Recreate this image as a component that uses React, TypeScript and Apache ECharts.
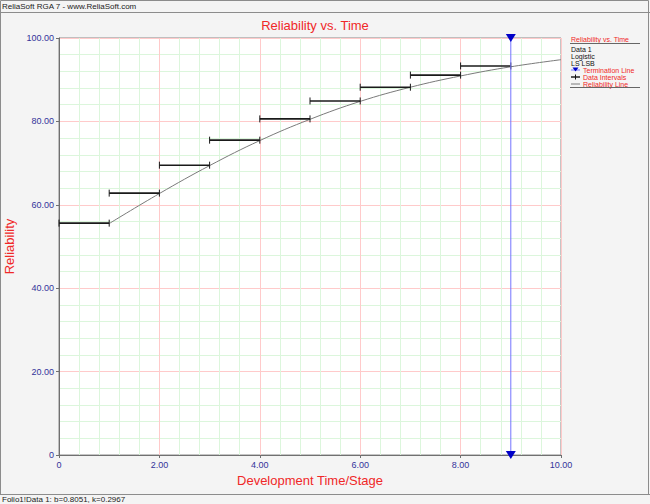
import React, { useEffect, useRef } from "react";
import * as echarts from "echarts";

// Data intervals: [start stage, end stage, reliability %]
const intervalStarts = [0, 1, 2, 3, 4, 5, 6, 7, 8];
const intervalEnds = [1, 2, 3, 4, 5, 6, 7, 8, 9];
const intervalValues = [55.6, 62.8, 69.5, 75.5, 80.6, 84.9, 88.2, 91.1, 93.3];

// Reliability line
const curveT = [1, 2, 3, 4, 5, 6, 7, 8, 9, 10];
const curveR = [55.5, 62.7, 69.4, 75.4, 80.5, 84.8, 88.2, 90.9, 93.1, 94.8];

// Termination line
const terminationT = 9;
const terminationRange = [0, 100];

const xTicks = [0, 2, 4, 6, 8, 10];
const yTicks = [0, 20, 40, 60, 80, 100];

const FONT = "Liberation Sans";
const RED = "#f02828";
const BLUE_LABEL = "#33339a";

export default function App() {
  const ref = useRef<HTMLDivElement>(null);
  useEffect(() => {
    if (!ref.current) return;
    const chart = echarts.init(ref.current, undefined, { renderer: "svg" });
    const fmt = (v: number) => (v === 0 ? "0" : v.toFixed(2));
    const intervalData = intervalStarts.map((s, i) => [s, intervalEnds[i], intervalValues[i]]);
    const curveData = curveT.map((t, i) => [t, curveR[i]]);

    const legendY0 = 49;
    const legendStep = 7;
    const legendText = (text: string, y: number, color: string, x = 571) => ({
      type: "text",
      x,
      y,
      style: { text, fill: color, font: `7px ${FONT}`, textVerticalAlign: "middle" },
    });

    chart.setOption({
      animation: false,
      backgroundColor: "#f4f4f4",
      textStyle: { fontFamily: FONT },
      title: {
        text: "Reliability vs. Time",
        left: 310,
        top: 14,
        textAlign: "center",
        textStyle: { color: RED, fontSize: 13, fontWeight: "normal", fontFamily: FONT },
      },
      grid: {
        left: 59,
        top: 38,
        right: 89,
        bottom: 49,
        containLabel: false,
        outerBoundsMode: "none",
        show: true,
        backgroundColor: "#ffffff",
        borderColor: "#8a8a8a",
        borderWidth: 1,
      },
      xAxis: {
        type: "value",
        min: xTicks[0],
        max: xTicks[xTicks.length - 1],
        interval: 2,
        name: "Development Time/Stage",
        nameLocation: "middle",
        nameGap: 19,
        nameTextStyle: { color: RED, fontSize: 13, fontFamily: FONT },
        axisLine: { show: true, lineStyle: { color: "#707070" } },
        axisTick: { show: true, length: 3, lineStyle: { color: "#707070" } },
        axisLabel: { color: BLUE_LABEL, fontSize: 9, margin: 5, formatter: fmt },
        splitLine: { show: true, lineStyle: { color: "#ffcaca", width: 1 } },
        minorTick: { show: false, splitNumber: 5 },
        minorSplitLine: { show: true, lineStyle: { color: "#dcf6dc", width: 1 } },
      },
      yAxis: {
        type: "value",
        min: yTicks[0],
        max: yTicks[yTicks.length - 1],
        interval: 20,
        name: "Reliability",
        nameLocation: "middle",
        nameGap: 36,
        nameTextStyle: { color: RED, fontSize: 13, fontFamily: FONT },
        axisLine: { show: true, lineStyle: { color: "#707070" } },
        axisTick: { show: true, length: 3, lineStyle: { color: "#707070" } },
        axisLabel: { color: BLUE_LABEL, fontSize: 9, margin: 5, formatter: fmt },
        splitLine: { show: true, lineStyle: { color: "#ffcaca", width: 1 } },
        minorTick: { show: false, splitNumber: 5 },
        minorSplitLine: { show: true, lineStyle: { color: "#dcf6dc", width: 1 } },
      },
      series: [
        {
          name: "Reliability Line",
          type: "line",
          data: curveData,
          smooth: 0.4,
          showSymbol: false,
          lineStyle: { color: "#7a7a7a", width: 1 },
          z: 3,
        },
        {
          name: "Data Intervals",
          type: "custom",
          data: intervalData,
          z: 4,
          renderItem: (params: any, api: any) => {
            const a = api.coord([api.value(0), api.value(2)]);
            const b = api.coord([api.value(1), api.value(2)]);
            const h = 3.5;
            const style = { stroke: "#1a1a1a", lineWidth: 1 };
            return {
              type: "group",
              children: [
                { type: "line", shape: { x1: a[0], y1: a[1], x2: b[0], y2: b[1] }, style: { stroke: "#1a1a1a", lineWidth: 1.6 } },
                { type: "line", shape: { x1: a[0], y1: a[1] - h, x2: a[0], y2: a[1] + h }, style },
                { type: "line", shape: { x1: b[0], y1: b[1] - h, x2: b[0], y2: b[1] + h }, style },
              ],
            };
          },
        },
        {
          name: "Termination Line",
          type: "line",
          data: terminationRange.map((r) => [terminationT, r]),
          symbol: "triangle",
          symbolRotate: 180,
          symbolSize: [10, 8],
          showSymbol: true,
          itemStyle: { color: "#0000c8" },
          lineStyle: { color: "#7474ff", width: 1 },
          z: 5,
        },
      ],
      graphic: [
        // outer frame
        { type: "rect", shape: { x: 0.5, y: 0.5, width: 648, height: 503 }, style: { fill: "none", stroke: "#8c8c8c", lineWidth: 1 }, silent: true },
        { type: "line", shape: { x1: 0, y1: 12.5, x2: 650, y2: 12.5 }, style: { stroke: "#8c8c8c", lineWidth: 1 } },
        { type: "text", x: 2, y: 6, style: { text: "ReliaSoft RGA 7 - www.ReliaSoft.com", fill: "#222", font: `8px ${FONT}`, textVerticalAlign: "middle" } },
        { type: "rect", shape: { x: 0, y: 494, width: 650, height: 10 }, style: { fill: "#f4f4f4" } },
        { type: "line", shape: { x1: 0, y1: 494.5, x2: 650, y2: 494.5 }, style: { stroke: "#8c8c8c", lineWidth: 1 } },
        { type: "text", x: 2, y: 499, style: { text: "Folio1!Data 1: b=0.8051, k=0.2967", fill: "#222", font: `8px ${FONT}`, textVerticalAlign: "middle" } },
        // legend
        legendText("Reliability vs. Time", 39, RED),
        { type: "line", shape: { x1: 570, y1: 43.5, x2: 640, y2: 43.5 }, style: { stroke: "#666", lineWidth: 1 } },
        legendText("Data 1", legendY0, "#111"),
        legendText("Logistic", legendY0 + legendStep, "#111"),
        legendText("LS LSB", legendY0 + legendStep * 2, "#111"),
        { type: "line", shape: { x1: 571, y1: legendY0 + legendStep * 3, x2: 580, y2: legendY0 + legendStep * 3 }, style: { stroke: "#7474ff", lineWidth: 1 } },
        { type: "polygon", shape: { points: [[572.5, legendY0 + legendStep * 3 - 2.5], [578.5, legendY0 + legendStep * 3 - 2.5], [575.5, legendY0 + legendStep * 3 + 1.5]] }, style: { fill: "#0000c8" } },
        legendText("Termination Line", legendY0 + legendStep * 3, RED, 583),
        { type: "line", shape: { x1: 571, y1: legendY0 + legendStep * 4, x2: 580, y2: legendY0 + legendStep * 4 }, style: { stroke: "#111", lineWidth: 1.4 } },
        { type: "line", shape: { x1: 575.5, y1: legendY0 + legendStep * 4 - 2.5, x2: 575.5, y2: legendY0 + legendStep * 4 + 2.5 }, style: { stroke: "#111", lineWidth: 1 } },
        legendText("Data Intervals", legendY0 + legendStep * 4, RED, 583),
        { type: "line", shape: { x1: 571, y1: legendY0 + legendStep * 5, x2: 580, y2: legendY0 + legendStep * 5 }, style: { stroke: "#7a7a7a", lineWidth: 1 } },
        legendText("Reliability Line", legendY0 + legendStep * 5, RED, 583),
        { type: "line", shape: { x1: 570, y1: 87.5, x2: 640, y2: 87.5 }, style: { stroke: "#666", lineWidth: 1 } },
      ],
    });
    return () => chart.dispose();
  }, []);
  return (
    <div
      ref={ref}
      style={{ position: "fixed", left: 0, top: 0, width: 650, height: 504 }}
    />
  );
}
